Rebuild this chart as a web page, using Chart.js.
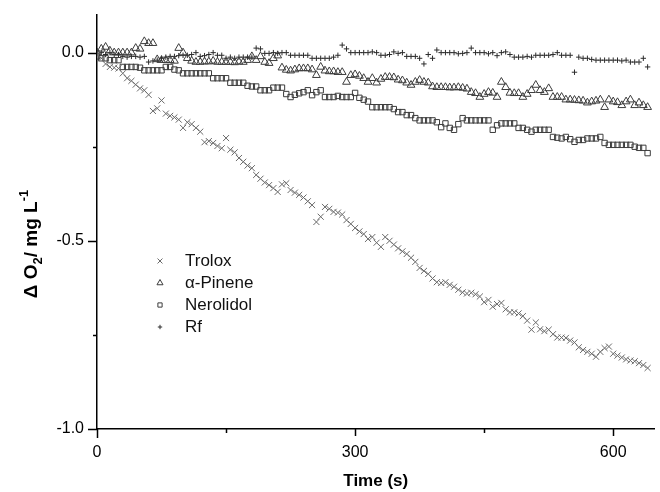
<!DOCTYPE html>
<html>
<head>
<meta charset="utf-8">
<script src="https://cdn.jsdelivr.net/npm/chart.js@4.4.0/dist/chart.umd.min.js"></script>
<style>
  html, body { margin: 0; padding: 0; background: #fff; }
  #wrap { width: 660px; height: 492px; }
</style>
</head>
<body>
<div id="wrap"><canvas id="c" width="660" height="492"></canvas></div>
<script>
// tiempos de muestreo (s)
const times = [
  0, 5, 10, 15, 20, 25, 30, 35, 40, 45,
  50, 55, 60, 65, 70, 75, 80, 85, 90, 95,
  100, 105, 110, 115, 120, 125, 130, 135, 140, 145,
  150, 155, 160, 165, 170, 175, 180, 185, 190, 195,
  200, 205, 210, 215, 220, 225, 230, 235, 240, 245,
  250, 255, 260, 265, 270, 275, 280, 285, 290, 295,
  300, 305, 310, 315, 320, 325, 330, 335, 340, 345,
  350, 355, 360, 365, 370, 375, 380, 385, 390, 395,
  400, 405, 410, 415, 420, 425, 430, 435, 440, 445,
  450, 455, 460, 465, 470, 475, 480, 485, 490, 495,
  500, 505, 510, 515, 520, 525, 530, 535, 540, 545,
  550, 555, 560, 565, 570, 575, 580, 585, 590, 595,
  600, 605, 610, 615, 620, 625, 630, 635, 640
];

const trolox = [
  -0.005, -0.015, -0.03, -0.038, -0.04, -0.042, -0.055, -0.068, -0.075, -0.085,
  -0.095, -0.1, -0.112, -0.155, -0.148, -0.127, -0.162, -0.168, -0.172, -0.178,
  -0.2, -0.185, -0.19, -0.2, -0.21, -0.238, -0.235, -0.24, -0.248, -0.254,
  -0.227, -0.258, -0.265, -0.28, -0.29, -0.3, -0.307, -0.325, -0.335, -0.345,
  -0.352, -0.36, -0.37, -0.35, -0.347, -0.365, -0.372, -0.378, -0.385, -0.395,
  -0.405, -0.45, -0.436, -0.41, -0.415, -0.423, -0.425, -0.43, -0.445, -0.455,
  -0.466, -0.475, -0.482, -0.495, -0.49, -0.505, -0.516, -0.49, -0.5, -0.51,
  -0.52, -0.528, -0.535, -0.545, -0.556, -0.572, -0.58, -0.588, -0.6, -0.61,
  -0.612, -0.61, -0.617, -0.622, -0.63, -0.637, -0.64, -0.638, -0.642, -0.648,
  -0.663, -0.657, -0.675, -0.668, -0.665, -0.682, -0.69, -0.69, -0.693, -0.7,
  -0.712, -0.736, -0.717, -0.735, -0.74, -0.736, -0.748, -0.757, -0.757, -0.758,
  -0.765, -0.77, -0.783, -0.79, -0.795, -0.8, -0.808, -0.795, -0.785, -0.781,
  -0.8, -0.805, -0.81, -0.815, -0.818, -0.82, -0.825, -0.83, -0.838
];

const pinene = [
  0.0, 0.01, 0.015, 0.005, 0.0, 0.0, 0.0, 0.0, 0.0, 0.012,
  0.01, 0.03, 0.025, 0.025, -0.018, -0.02, -0.02, -0.02, -0.022, 0.012,
  0.0, -0.015, -0.022, -0.025, -0.025, -0.024, -0.024, -0.022, -0.025, -0.025,
  -0.025, -0.025, -0.026, -0.024, -0.025, -0.02, -0.01, -0.02, -0.01, -0.025,
  -0.028, -0.015, -0.008, -0.04, -0.046, -0.048, -0.045, -0.042, -0.042, -0.042,
  -0.045, -0.06, -0.038, -0.048, -0.05, -0.05, -0.052, -0.052, -0.078, -0.06,
  -0.058, -0.062, -0.068, -0.078, -0.068, -0.08, -0.07, -0.065, -0.065, -0.066,
  -0.072, -0.074, -0.08, -0.086, -0.078, -0.073, -0.078, -0.08, -0.09, -0.092,
  -0.092, -0.092, -0.093, -0.093, -0.092, -0.094, -0.096, -0.105, -0.108, -0.118,
  -0.11, -0.105, -0.107, -0.118, -0.078, -0.092, -0.107, -0.108, -0.108, -0.118,
  -0.11, -0.1, -0.086, -0.1, -0.105, -0.095, -0.118, -0.118, -0.118, -0.125,
  -0.125, -0.126, -0.127, -0.128, -0.133, -0.13, -0.128, -0.125, -0.145, -0.125,
  -0.13, -0.132, -0.14, -0.13, -0.125, -0.14, -0.133, -0.14, -0.145
];

const nerolidol = [
  -0.01, -0.015, -0.015, -0.02, -0.02, -0.02, -0.038, -0.038, -0.038, -0.038,
  -0.04, -0.047, -0.047, -0.047, -0.047, -0.047, -0.038, -0.038, -0.045, -0.047,
  -0.055, -0.055, -0.055, -0.055, -0.055, -0.055, -0.055, -0.068, -0.068, -0.068,
  -0.068, -0.08, -0.08, -0.08, -0.08, -0.088, -0.09, -0.09, -0.1, -0.1,
  -0.1, -0.093, -0.093, -0.093, -0.11, -0.118, -0.112, -0.108, -0.105, -0.1,
  -0.113, -0.105, -0.1, -0.118, -0.118, -0.118, -0.115, -0.118, -0.118, -0.118,
  -0.107, -0.12, -0.125, -0.13, -0.145, -0.145, -0.145, -0.145, -0.145, -0.15,
  -0.158, -0.158, -0.166, -0.166, -0.174, -0.18, -0.18, -0.18, -0.18, -0.185,
  -0.198, -0.188, -0.2, -0.205, -0.19, -0.174, -0.18, -0.18, -0.18, -0.18,
  -0.18, -0.18, -0.205, -0.193, -0.188, -0.188, -0.188, -0.188, -0.2, -0.2,
  -0.205, -0.21, -0.205, -0.205, -0.205, -0.205, -0.224, -0.226, -0.228, -0.224,
  -0.23, -0.237, -0.232, -0.232, -0.228, -0.228, -0.228, -0.224, -0.24, -0.245,
  -0.245, -0.245, -0.245, -0.245, -0.245, -0.25, -0.253, -0.253, -0.267
];

const rf = [
  0.005, 0.0, -0.005, 0.0, -0.005, -0.005, -0.01, -0.012, -0.01, -0.01,
  -0.012, -0.01, -0.025, -0.022, -0.02, -0.015, -0.012, -0.01, -0.01, -0.008,
  -0.007, -0.007, -0.005, 0.0, -0.01, -0.008, -0.005, 0.0, -0.007, -0.007,
  -0.015, -0.012, -0.015, -0.012, -0.012, -0.012, -0.012, 0.012, 0.01, -0.002,
  -0.002, 0.0, -0.002, 0.0, 0.0, -0.007, -0.007, -0.007, -0.007, -0.007,
  -0.015, -0.015, -0.015, -0.015, -0.015, -0.012, -0.007, 0.02, 0.01, 0.0,
  0.0, 0.0, 0.0, 0.0, 0.002, 0.0, -0.007, -0.007, -0.005, 0.002,
  -0.002, 0.0, -0.01, -0.01, -0.01, -0.015, -0.03, -0.005, -0.015, 0.007,
  0.0, 0.0, 0.0, 0.0, -0.003, -0.002, 0.0, 0.012, 0.0, 0.0,
  0.0, -0.003, 0.0, -0.008, 0.0, 0.002, -0.005, -0.012, -0.012, -0.012,
  -0.01, -0.012, -0.007, -0.007, -0.007, -0.007, -0.005, 0.0, -0.007, -0.007,
  -0.007, -0.052, -0.012, -0.015, -0.015, -0.018, -0.02, -0.02, -0.02, -0.02,
  -0.02, -0.02, -0.022, -0.02, -0.025, -0.025, -0.025, -0.015, -0.038
];

// ticks de los ejes
const xTicks = [0, 150, 300, 450, 600];
const xLabeled = [0, 300, 600];
const yTicks = [-1, -0.75, -0.5, -0.25, 0];
const yLabeled = [-1, -0.5, 0];

const FONT = "'Liberation Sans', Arial, sans-serif";

function pts(vals) {
  return times.map((t, i) => ({ x: t, y: vals[i] }));
}

// ticks de distinto largo (mayores / menores)
const tickMarks = {
  id: 'tickMarks',
  afterDraw(chart) {
    const ctx = chart.ctx;
    const a = chart.chartArea;
    const xs = chart.scales.x, ys = chart.scales.y;
    ctx.save();
    ctx.strokeStyle = '#000';
    ctx.lineWidth = 1.5;
    ctx.beginPath();
    xTicks.forEach(v => {
      const px = Math.round(xs.getPixelForValue(v)) + 0.5;
      const len = xLabeled.includes(v) ? (v === 0 ? 9 : 7) : 4;
      ctx.moveTo(px, a.bottom);
      ctx.lineTo(px, a.bottom + len);
    });
    yTicks.forEach(v => {
      const py = Math.round(ys.getPixelForValue(v)) + 0.5;
      const len = yLabeled.includes(v) ? 9 : 4;
      ctx.moveTo(a.left, py);
      ctx.lineTo(a.left - len, py);
    });
    ctx.stroke();
    ctx.restore();
  }
};

// leyenda dentro del área del gráfico
const legendBox = {
  id: 'legendBox',
  afterDraw(chart) {
    const ctx = chart.ctx;
    const sizes = [3.5, 3.5, 3, 2.2];
    ctx.save();
    chart.data.datasets.forEach((ds, i) => {
      const y = 261 + i * 22;
      ctx.strokeStyle = ds.pointBorderColor;
      ctx.fillStyle = 'rgba(0,0,0,0)';
      ctx.lineWidth = 1;
      if (Chart.helpers && Chart.helpers.drawPoint) {
        Chart.helpers.drawPoint(ctx, { pointStyle: ds.pointStyle, radius: sizes[i], rotation: 0, borderWidth: 1 }, 160, y);
      }
      ctx.fillStyle = '#111';
      ctx.font = '17px ' + FONT;
      ctx.textBaseline = 'middle';
      ctx.textAlign = 'left';
      ctx.fillText(ds.label, 185, y);
    });
    ctx.restore();
  }
};

// título del eje y con subíndice y superíndice
const yTitle = {
  id: 'yTitle',
  afterDraw(chart) {
    const ctx = chart.ctx;
    const parts = [
      { t: '\u0394 O', s: 19, dy: 0 },
      { t: '2', s: 13, dy: 5 },
      { t: '/ mg L', s: 19, dy: 0 },
      { t: '-1', s: 13, dy: -9 }
    ];
    ctx.save();
    ctx.fillStyle = '#000';
    ctx.textBaseline = 'alphabetic';
    ctx.textAlign = 'left';
    let w = 0;
    parts.forEach(p => { ctx.font = 'bold ' + p.s + 'px ' + FONT; p.w = ctx.measureText(p.t).width; w += p.w; });
    ctx.translate(37, 244);
    ctx.rotate(-Math.PI / 2);
    let x = -w / 2;
    parts.forEach(p => {
      ctx.font = 'bold ' + p.s + 'px ' + FONT;
      ctx.fillText(p.t, x, p.dy);
      x += p.w;
    });
    ctx.restore();
  }
};

const cfg = {
  type: 'scatter',
  data: {
    datasets: [
      { label: 'Trolox', data: pts(trolox), pointStyle: 'crossRot', pointRadius: 4.3,
        pointBorderColor: '#6a6a6a', pointBackgroundColor: 'rgba(0,0,0,0)', pointBorderWidth: 1 },
      { label: '\u03b1-Pinene', data: pts(pinene), pointStyle: 'triangle', pointRadius: 4.5,
        pointBorderColor: '#3c3c3c', pointBackgroundColor: 'rgba(0,0,0,0)', pointBorderWidth: 1 },
      { label: 'Nerolidol', data: pts(nerolidol), pointStyle: 'rect', pointRadius: 3.8,
        pointBorderColor: '#3c3c3c', pointBackgroundColor: 'rgba(0,0,0,0)', pointBorderWidth: 1 },
      { label: 'Rf', data: pts(rf), pointStyle: 'cross', pointRadius: 2.7,
        pointBorderColor: '#2c2c2c', pointBackgroundColor: 'rgba(0,0,0,0)', pointBorderWidth: 1 }
    ]
  },
  options: {
    responsive: false,
    animation: false,
    devicePixelRatio: 1,
    layout: { padding: { top: 15, right: 0, bottom: 0, left: 0 } },
    plugins: {
      legend: { display: false },
      tooltip: { enabled: false }
    },
    scales: {
      x: {
        type: 'linear',
        min: 0,
        max: 648,
        afterBuildTicks: s => { s.ticks = xTicks.map(v => ({ value: v })); },
        afterFit: s => { s.height = 63; },
        ticks: {
          autoSkip: false,
          maxRotation: 0,
          padding: 7,
          color: '#000',
          font: { family: FONT, size: 16 },
          callback: v => xLabeled.includes(v) ? String(v) : ''
        },
        grid: { drawOnChartArea: false, tickLength: 7, tickColor: 'rgba(0,0,0,0)' },
        border: { color: '#000', width: 1.5 },
        title: {
          display: true,
          text: 'Time (s)',
          color: '#000',
          font: { family: FONT, size: 17, weight: 'bold' },
          padding: { top: 0, bottom: 0 }
        }
      },
      y: {
        min: -1,
        max: 0.1,
        afterBuildTicks: s => { s.ticks = yTicks.map(v => ({ value: v })); },
        afterFit: s => { s.width = 97; },
        ticks: {
          autoSkip: false,
          padding: 4,
          color: '#000',
          font: { family: FONT, size: 16 },
          callback: v => yLabeled.includes(v) ? v.toFixed(1) : ''
        },
        grid: { drawOnChartArea: false, tickLength: 9, tickColor: 'rgba(0,0,0,0)' },
        border: { color: '#000', width: 1.5 }
      }
    }
  },
  plugins: [tickMarks, legendBox, yTitle]
};

new Chart(document.getElementById('c'), cfg);
</script>
</body>
</html>
